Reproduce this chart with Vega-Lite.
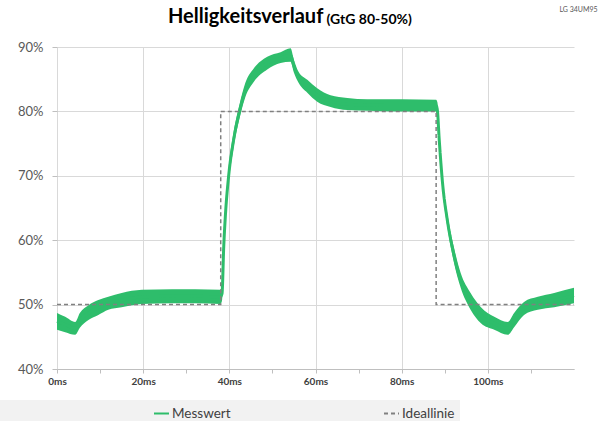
{
  "$schema": "https://vega.github.io/schema/vega-lite/v6.json",
  "width": 517,
  "height": 322,
  "autosize": {"type": "none"},
  "padding": {"left": 57, "top": 47, "right": 26, "bottom": 52},
  "background": "white",
  "title": {
    "text": "Helligkeitsverlauf",
    "anchor": "start",
    "frame": "group",
    "dx": 111,
    "dy": 22,
    "offset": 0,
    "font": "Lato",
    "fontSize": 20,
    "fontWeight": "bold",
    "color": "#000000"
  },
  "datasets": {
    "mess": [
      {"t": 0, "lo": 46.1, "hi": 48.7, "mid": 47.4},
      {"t": 1.9, "lo": 45.7, "hi": 48.1, "mid": 46.9},
      {"t": 4.2, "lo": 45.3, "hi": 47.3, "mid": 46.3},
      {"t": 5.3, "lo": 46.4, "hi": 48.7, "mid": 47.5},
      {"t": 7.3, "lo": 47.6, "hi": 49.9, "mid": 48.7},
      {"t": 9.6, "lo": 48.4, "hi": 50.7, "mid": 49.5},
      {"t": 11.9, "lo": 49.2, "hi": 51.2, "mid": 50.2},
      {"t": 15, "lo": 49.6, "hi": 51.8, "mid": 50.7},
      {"t": 19.7, "lo": 50.1, "hi": 52.3, "mid": 51.2},
      {"t": 26.7, "lo": 50.2, "hi": 52.4, "mid": 51.3},
      {"t": 32.1, "lo": 50.2, "hi": 52.4, "mid": 51.3},
      {"t": 37.9, "lo": 50.1, "hi": 52.3, "mid": 51.2},
      {"t": 38.3, "lo": 50.6, "hi": 52.8, "mid": 51.7},
      {"t": 38.7, "lo": 57.8, "hi": 60.2, "mid": 59.0},
      {"t": 39.1, "lo": 62.8, "hi": 65.2, "mid": 64.0},
      {"t": 39.8, "lo": 68.5, "hi": 71.0, "mid": 69.7},
      {"t": 41.0, "lo": 74.4, "hi": 76.8, "mid": 75.6},
      {"t": 42.4, "lo": 79.0, "hi": 81.2, "mid": 80.1},
      {"t": 43.7, "lo": 82.2, "hi": 84.4, "mid": 83.3},
      {"t": 45.7, "lo": 84.6, "hi": 86.7, "mid": 85.6},
      {"t": 48.8, "lo": 86.5, "hi": 88.5, "mid": 87.5},
      {"t": 51.9, "lo": 87.5, "hi": 89.2, "mid": 88.3},
      {"t": 54.2, "lo": 87.7, "hi": 89.8, "mid": 88.7},
      {"t": 55.0, "lo": 86.0, "hi": 88.0, "mid": 87.0},
      {"t": 56.1, "lo": 84.4, "hi": 86.1, "mid": 85.2},
      {"t": 58.1, "lo": 82.9, "hi": 84.9, "mid": 83.9},
      {"t": 60.4, "lo": 81.5, "hi": 83.6, "mid": 82.5},
      {"t": 63.5, "lo": 80.7, "hi": 82.5, "mid": 81.6},
      {"t": 67.4, "lo": 80.2, "hi": 82.1, "mid": 81.1},
      {"t": 72, "lo": 80.1, "hi": 81.9, "mid": 81.0},
      {"t": 80, "lo": 80.0, "hi": 81.9, "mid": 80.9},
      {"t": 88.0, "lo": 80.0, "hi": 81.8, "mid": 80.9},
      {"t": 88.3, "lo": 78.8, "hi": 81.4, "mid": 80.1},
      {"t": 88.7, "lo": 74.5, "hi": 77.1, "mid": 75.8},
      {"t": 89.5, "lo": 67.8, "hi": 69.8, "mid": 68.8},
      {"t": 90.6, "lo": 62.1, "hi": 64.2, "mid": 63.1},
      {"t": 92.1, "lo": 56.6, "hi": 59.0, "mid": 57.8},
      {"t": 93.7, "lo": 52.6, "hi": 54.9, "mid": 53.7},
      {"t": 96.0, "lo": 49.2, "hi": 51.8, "mid": 50.5},
      {"t": 98.4, "lo": 47.1, "hi": 49.6, "mid": 48.3},
      {"t": 101.5, "lo": 46.1, "hi": 48.1, "mid": 47.1},
      {"t": 104.6, "lo": 45.3, "hi": 47.3, "mid": 46.3},
      {"t": 106.1, "lo": 46.5, "hi": 48.7, "mid": 47.6},
      {"t": 108.4, "lo": 48.4, "hi": 50.4, "mid": 49.4},
      {"t": 111.6, "lo": 49.2, "hi": 51.2, "mid": 50.2},
      {"t": 115.4, "lo": 49.6, "hi": 51.8, "mid": 50.7},
      {"t": 120, "lo": 50.2, "hi": 52.6, "mid": 51.4}
    ],
    "ideal": [
      {"t": 0, "v": 50},
      {"t": 38, "v": 50},
      {"t": 38, "v": 80},
      {"t": 88, "v": 80},
      {"t": 88, "v": 50},
      {"t": 120, "v": 50}
    ]
  },
  "encoding": {
    "x": {
      "field": "t",
      "type": "quantitative",
      "scale": {"domain": [0, 120], "nice": false, "zero": false},
      "axis": {
        "values": [0, 10, 20, 30, 40, 50, 60, 70, 80, 90, 100, 110],
        "labelExpr": "datum.value % 20 == 0 ? datum.value + 'ms' : ''",
        "labelOverlap": false,
        "labelFlush": false,
        "grid": true,
        "gridColor": {"condition": {"test": "datum.value % 20 == 0", "value": "#d9d9d9"}, "value": "transparent"},
        "gridWidth": 1,
        "domainColor": "#bfbfbf",
        "tickColor": "#bfbfbf",
        "tickSize": 4,
        "labelFont": "Lato",
        "labelFontSize": 10,
        "labelFontWeight": "bold",
        "labelColor": "#404040",
        "labelPadding": 3,
        "title": "(GtG 80-50%)",
        "titleX": 269,
        "titleY": -346,
        "titleAlign": "left",
        "titleBaseline": "alphabetic",
        "titleFont": "Lato",
        "titleFontSize": 14,
        "titleFontWeight": "bold",
        "titleColor": "#000000"
      }
    }
  },
  "layer": [
    {
      "data": {"name": "mess"},
      "mark": {"type": "area", "color": "#2ebd6b", "opacity": 1, "interpolate": "monotone"},
      "encoding": {
        "y": {
          "field": "lo",
          "type": "quantitative",
          "scale": {"domain": [40, 90], "nice": false, "zero": false},
          "axis": {
            "values": [40, 50, 60, 70, 80, 90],
            "labelExpr": "datum.value + '%'",
            "grid": true,
            "gridColor": "#d9d9d9",
            "domain": false,
            "tickColor": "#bfbfbf",
            "tickSize": 5,
            "labelFont": "Lato",
            "labelFontSize": 13,
            "labelColor": "#595959",
            "labelPadding": 9,
            "title": "LG 34UM95",
            "titleAngle": 0,
            "titleX": 521,
            "titleY": -38,
            "titleAlign": "center",
            "titleBaseline": "middle",
            "titleFont": "Lato",
            "titleFontSize": 7,
            "titleFontWeight": "normal",
            "titleColor": "#595959"
          }
        },
        "y2": {"field": "hi"}
      }
    },
    {
      "data": {"name": "mess"},
      "mark": {"type": "line", "strokeWidth": 3, "interpolate": "monotone"},
      "encoding": {
        "y": {"field": "mid", "type": "quantitative"},
        "color": {
          "datum": "Messwert",
          "type": "nominal",
          "scale": {"domain": ["Messwert", "Ideallinie"], "range": ["#2ebd6b", "#808080"]},
          "legend": {
            "title": null,
            "orient": "none",
            "legendX": -57,
            "legendY": 353,
            "direction": "horizontal",
            "fillColor": "#f2f2f2",
            "padding": 5,
            "symbolType": "stroke",
            "symbolSize": 225,
            "symbolStrokeWidth": 2,
            "symbolOffset": 148,
            "labelOffset": 2,
            "columnPadding": 4,
            "labelFont": "Lato",
            "labelFontSize": 13.5,
            "labelColor": "#404040"
          }
        },
        "strokeDash": {
          "datum": "Messwert",
          "type": "nominal",
          "scale": {"domain": ["Messwert", "Ideallinie"], "range": [[1, 0], [4, 3]]},
          "legend": {
            "title": null,
            "orient": "none",
            "legendX": -57,
            "legendY": 353,
            "direction": "horizontal",
            "fillColor": "#f2f2f2",
            "padding": 5,
            "symbolType": "stroke",
            "symbolSize": 225,
            "symbolStrokeWidth": 2,
            "symbolOffset": 148,
            "labelOffset": 2,
            "columnPadding": 4,
            "labelFont": "Lato",
            "labelFontSize": 13.5,
            "labelColor": "#404040"
          }
        }
      }
    },
    {
      "data": {"name": "ideal"},
      "mark": {"type": "line", "strokeWidth": 1.5},
      "encoding": {
        "y": {"field": "v", "type": "quantitative"},
        "color": {"datum": "Ideallinie", "type": "nominal"},
        "strokeDash": {"datum": "Ideallinie", "type": "nominal"}
      }
    }
  ],
  "config": {
    "view": {"stroke": null},
    "line": {"strokeCap": "butt"}
  }
}
